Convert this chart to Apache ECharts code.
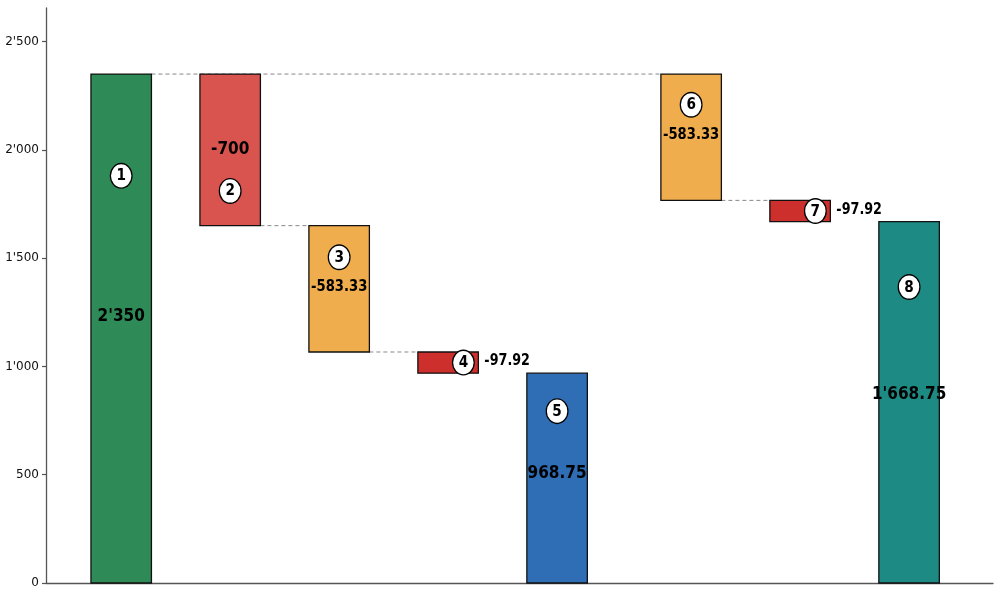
<!DOCTYPE html>
<html><head><meta charset="utf-8">
<script src="https://cdn.jsdelivr.net/npm/echarts@6/dist/echarts.min.js"></script>
<style>html,body{margin:0;padding:0;background:#fff}#c{width:1000px;height:600px}</style>
</head><body><div id="c"></div>
<script>
// ---- data ----
const stepLabels = ['1', '2', '3', '4', '5', '6', '7', '8'];
const xPositions = [0, 1, 2, 3, 4, 5.23, 6.23, 7.23];
const baseValues = [0, 2350, 1650, 1066.67, 0, 2350, 1766.67, 0];
const endValues = [2350, 1650, 1066.67, 968.75, 968.75, 1766.67, 1668.75, 1668.75];
const valueLabels = ["2'350", "-700", "-583.33", "-97.92", "968.75", "-583.33", "-97.92", "1'668.75"];
const yTicks = [0, 500, 1000, 1500, 2000, 2500];
const connectorPairs = [[0, 5], [1, 2], [2, 3], [5, 6]];

// ---- style / layout ----
const barColors = ['#2e8b57', '#d9534f', '#f0ad4e', '#cc2f2c', '#2f6db5', '#f0ad4e', '#cc2f2c', '#1e8a84'];
const BAR_W = 0.555;
// fractions of bar height (from bottom) for badge / value label; 'side' = outside right
const labelLayout = [
  { badge: 0.80, label: 0.523, size: 18 },
  { badge: 0.229, label: 0.504, size: 18 },
  { badge: 0.75, label: 0.513, size: 15.5 },
  { side: true, size: 15 },
  { badge: 0.819, label: 0.523, size: 18 },
  { badge: 0.757, label: 0.518, size: 15.5 },
  { side: true, size: 15 },
  { badge: 0.819, label: 0.523, size: 18 }
];

const fmt = v => String(v).replace(/\B(?=(\d{3})+(?!\d))/g, "'");

const barData = xPositions.map((x, i) => [x, baseValues[i], endValues[i]]);
const connData = connectorPairs.map(([a, b]) => [xPositions[a] + BAR_W / 2, xPositions[b] - BAR_W / 2, endValues[a]]);

function badge(cx, cy, txt) {
  return [
    { type: 'circle', x: cx, y: cy, scaleX: 0.88, shape: { cx: 0, cy: 0, r: 12.3 },
      style: { fill: '#fff', stroke: '#000', lineWidth: 1.4 }, z2: 10 },
    { type: 'text', x: cx, y: cy + 0.5, scaleX: 0.88,
      style: { text: txt, fill: '#000', font: 'bold 15.5px "DejaVu Sans"', align: 'center', verticalAlign: 'middle' }, z2: 11 }
  ];
}

const chart = echarts.init(document.getElementById('c'), null, { renderer: 'canvas' });
chart.setOption({
  animation: false,
  backgroundColor: '#fff',
  grid: { left: 46, right: 7, top: 8, bottom: 17, containLabel: false },
  xAxis: {
    type: 'value', min: -0.69, max: 8.0,
    axisLine: { show: true, onZero: false, lineStyle: { color: '#555', width: 1.3 } },
    axisTick: { show: false }, axisLabel: { show: false }, splitLine: { show: false }
  },
  yAxis: {
    type: 'value', min: 0, max: 2655,
    axisLine: { show: true, onZero: false, lineStyle: { color: '#555', width: 1.3 } },
    axisTick: { show: true, inside: false, length: 4, customValues: yTicks, lineStyle: { color: '#555', width: 1.2 } },
    axisLabel: { customValues: yTicks, formatter: v => fmt(v), color: '#111', fontFamily: 'DejaVu Sans', fontSize: 12, margin: 7 },
    splitLine: { show: false }
  },
  series: [
    {
      type: 'custom', z: 1, data: connData,
      renderItem(params, api) {
        const p0 = api.coord([api.value(0), api.value(2)]);
        const p1 = api.coord([api.value(1), api.value(2)]);
        return { type: 'line', shape: { x1: p0[0], y1: p0[1], x2: p1[0], y2: p1[1] },
          style: { stroke: '#888', lineWidth: 1, lineDash: [4, 3] } };
      }
    },
    {
      type: 'custom', z: 2, data: barData,
      renderItem(params, api) {
        const i = params.dataIndex;
        const x = api.value(0), lo = api.value(1), hi = api.value(2);
        const p0 = api.coord([x - BAR_W / 2, Math.max(lo, hi)]);
        const p1 = api.coord([x + BAR_W / 2, Math.min(lo, hi)]);
        const children = [{
          type: 'rect', shape: { x: p0[0], y: p0[1], width: p1[0] - p0[0], height: p1[1] - p0[1] },
          style: { fill: barColors[i], stroke: '#111', lineWidth: 1.3 }
        }];
        const L = labelLayout[i];
        const bottom = Math.min(lo, hi), h = Math.abs(hi - lo);
        if (L.side) {
          const mid = (lo + hi) / 2;
          const bc = api.coord([x + 0.14, mid]);
          children.push(...badge(bc[0], bc[1], stepLabels[i]));
          const lc = api.coord([x + BAR_W / 2 + 0.055, mid]);
          children.push({ type: 'text', x: lc[0], y: lc[1] - 1, scaleX: 0.85,
            style: { text: valueLabels[i], fill: '#000', font: 'bold ' + L.size + 'px "DejaVu Sans"', align: 'left', verticalAlign: 'middle' }, z2: 12 });
        } else {
          const bc = api.coord([x, bottom + L.badge * h]);
          children.push(...badge(bc[0], bc[1], stepLabels[i]));
          const lc = api.coord([x, bottom + L.label * h]);
          children.push({ type: 'text', x: lc[0], y: lc[1], scaleX: 0.85,
            style: { text: valueLabels[i], fill: '#000', font: 'bold ' + L.size + 'px "DejaVu Sans"', align: 'center', verticalAlign: 'middle' }, z2: 12 });
        }
        return { type: 'group', children };
      }
    }
  ]
});
</script>
</body></html>
